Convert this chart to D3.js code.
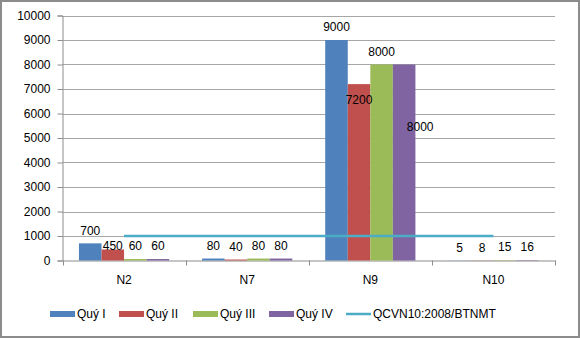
<!DOCTYPE html>
<html><head><meta charset="utf-8">
<script src="https://cdn.jsdelivr.net/npm/d3@7/dist/d3.min.js"></script>
<style>html,body{margin:0;padding:0;background:#fff;}svg{display:block;font-family:"Liberation Sans",Arial,sans-serif;}</style>
</head><body>
<svg id="c" width="580" height="338"></svg>
<script>
// ---- data ----
const categories = ["N2", "N7", "N9", "N10"];
const seriesNames = ["Quý I", "Quý II", "Quý III", "Quý IV"];
const quyI   = [700, 80, 9000, 5];
const quyII  = [450, 40, 7200, 8];
const quyIII = [60, 80, 8000, 15];
const quyIV  = [60, 80, 8000, 16];
const qcvnName = "QCVN10:2008/BTNMT";
const qcvn = [1000, 1000, 1000, 1000];
const yTicks = [0, 1000, 2000, 3000, 4000, 5000, 6000, 7000, 8000, 9000, 10000];

// ---- layout / style (separate from data) ----
const colors = ["#4F81BD", "#C0504D", "#9BBB59", "#8064A2"];
const lineColor = "#4BACC6";
// manual label nudges (px) as placed in the original chart [series][category]
const labelDx = [[0,0,0,0],[0,0,0,0],[0,0,0,0],[0,0,16,0]];
const labelDy = [[0,0,0,0],[9,0,29,0],[0,0,0,0],[0,0,75,0]];

const series = [quyI, quyII, quyIII, quyIV];
const svg = d3.select("#c");
const W = 580, H = 338;

svg.append("rect").attr("x",1).attr("y",1).attr("width",W-2).attr("height",H-2)
  .attr("fill","#fff").attr("stroke","#8c8c8c").attr("stroke-width",2);

const x0 = 62.5, x1 = 555, yTop = 15.5, yBot = 260.5;
const x = d3.scaleBand().domain(categories).range([x0, x1]).paddingInner(0).paddingOuter(0);
const xs = d3.scaleBand().domain(d3.range(series.length)).range([0, x.bandwidth()]).paddingInner(0).paddingOuter(0.73);
const y = d3.scaleLinear().domain([0, 10000]).range([yBot, yTop]);

// gridlines
svg.append("g").selectAll("line").data(yTicks.filter(t => t > 0)).join("line")
  .attr("x1", x0).attr("x2", x1)
  .attr("y1", d => Math.round(y(d)) + 0.5).attr("y2", d => Math.round(y(d)) + 0.5)
  .attr("stroke", "#a6a6a6").attr("stroke-width", 1);

// y axis
const ya = svg.append("g").attr("transform", `translate(${x0},0)`)
  .call(d3.axisLeft(y).tickValues(yTicks).tickFormat(d3.format("d")).tickSize(5).tickPadding(7));
ya.select(".domain").attr("stroke", "#8c8c8c");
ya.selectAll(".tick line").attr("stroke", "#8c8c8c");
ya.selectAll(".tick text").attr("font-size", 12).attr("fill", "#000").attr("font-family", "Liberation Sans, Arial, sans-serif");

// x axis
const xa = svg.append("g").attr("transform", `translate(0,${yBot})`)
  .call(d3.axisBottom(x).tickSize(0).tickPadding(15));
xa.select(".domain").attr("stroke", "#8c8c8c");
xa.selectAll(".tick text").attr("font-size", 12).attr("fill", "#000").attr("font-family", "Liberation Sans, Arial, sans-serif");
// category boundary ticks
const bounds = categories.map(c => x(c)).concat([x1]);
svg.append("g").selectAll("line").data(bounds).join("line")
  .attr("x1", d => Math.round(d) + 0.5).attr("x2", d => Math.round(d) + 0.5)
  .attr("y1", yBot).attr("y2", yBot + 5).attr("stroke", "#8c8c8c");

// bars
series.forEach((vals, si) => {
  svg.append("g").selectAll("rect").data(vals).join("rect")
    .attr("x", (d, i) => x(categories[i]) + xs(si))
    .attr("width", xs.bandwidth())
    .attr("y", d => y(d))
    .attr("height", d => yBot - y(d))
    .attr("fill", colors[si]);
});

// QCVN line
const line = d3.line().x((d, i) => x(categories[i]) + x.bandwidth() / 2).y(d => y(d));
svg.append("path").datum(qcvn).attr("d", line)
  .attr("fill", "none").attr("stroke", lineColor).attr("stroke-width", 2.5);

// labels
series.forEach((vals, si) => {
  svg.append("g").selectAll("text").data(vals).join("text")
    .attr("x", (d, i) => x(categories[i]) + xs(si) + xs.bandwidth() / 2 + labelDx[si][i])
    .attr("y", (d, i) => y(d) - 13 + labelDy[si][i])
    .attr("dy", "0.35em")
    .attr("text-anchor", "middle")
    .attr("font-size", 12).attr("fill", "#000")
    .text(d => d);
});

// legend
const legendItems = seriesNames.map((n, i) => ({name: n, color: colors[i], type: "bar"}))
  .concat([{name: qcvnName, color: lineColor, type: "line"}]);
const legendX = [50, 119, 193, 269, 346];
const ly = 314;
const lg = svg.append("g");
legendItems.forEach((it, i) => {
  const g = lg.append("g").attr("transform", `translate(${legendX[i]},${ly})`);
  if (it.type === "bar") {
    g.append("rect").attr("x", 0).attr("y", -3).attr("width", 25).attr("height", 6).attr("fill", it.color);
  } else {
    g.append("line").attr("x1", 0).attr("x2", 25).attr("y1", 0).attr("y2", 0)
      .attr("stroke", it.color).attr("stroke-width", 2.5);
  }
  g.append("text").attr("x", 27).attr("y", 0).attr("dy", "0.35em")
    .attr("font-size", 12).attr("fill", "#000").text(it.name);
});
</script>
</body></html>
